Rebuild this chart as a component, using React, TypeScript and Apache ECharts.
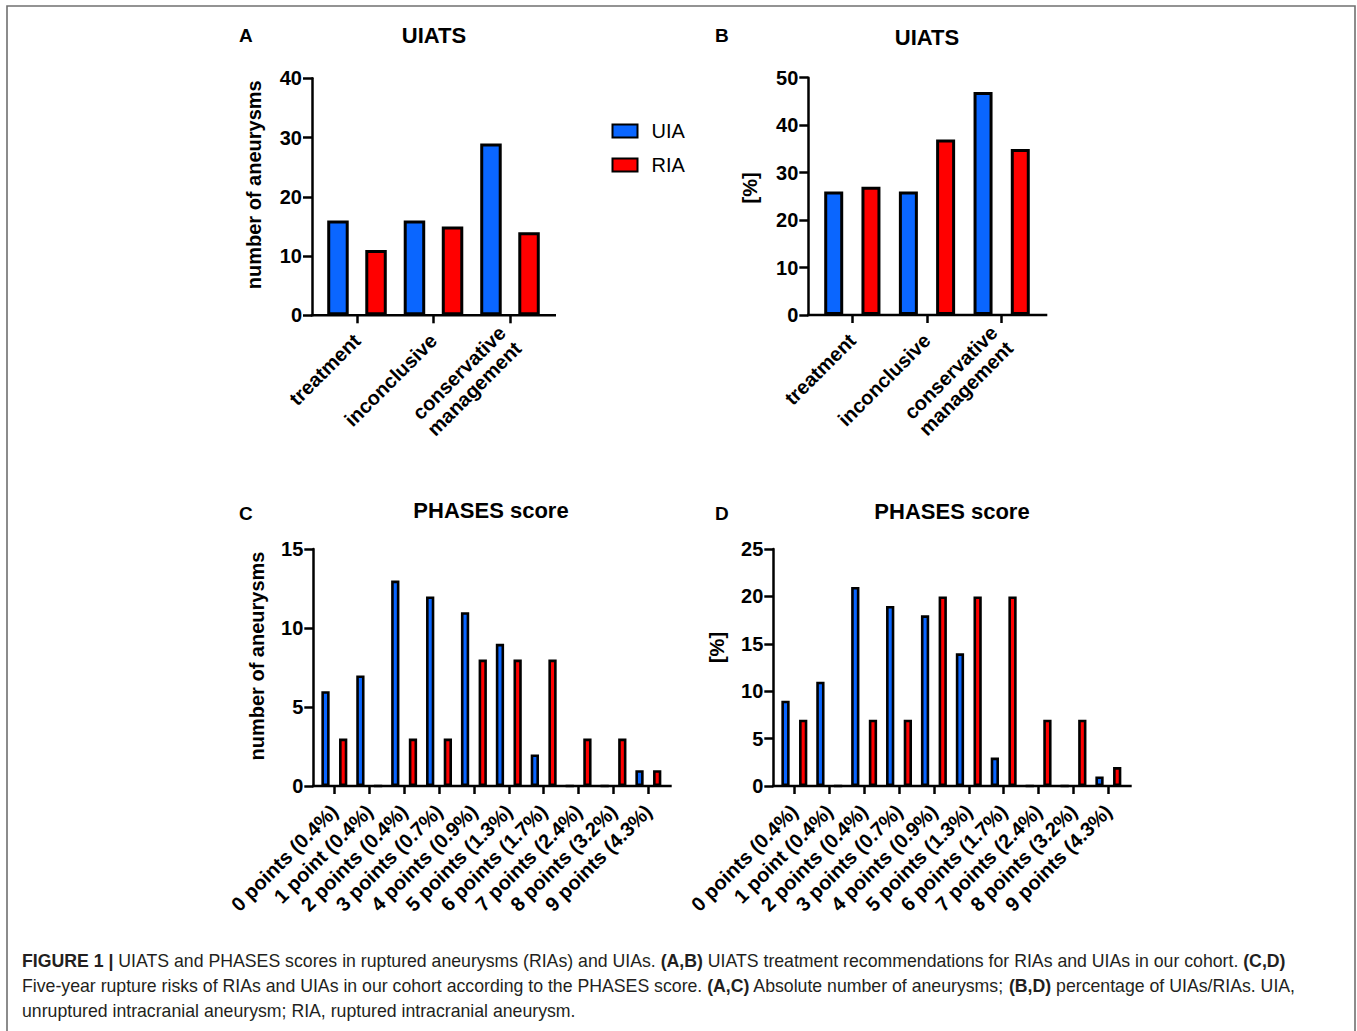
import React, { useEffect, useRef } from "react";
import * as echarts from "echarts";

const FONT = "'Liberation Sans', Arial, Helvetica, sans-serif";
const BLUE = "#0a66ff";
const RED = "#ff0000";

// ---- data ----
const uiatsCategories = ["treatment", "inconclusive", "conservative\nmanagement"];
const uiatsUiaCount = [16, 16, 29];
const uiatsRiaCount = [11, 15, 14];
const uiatsUiaPct = [26, 26, 47];
const uiatsRiaPct = [27, 37, 35];

const phasesCategories = [
  "0 points (0.4%)",
  "1 point (0.4%)",
  "2 points (0.4%)",
  "3 points (0.7%)",
  "4 points (0.9%)",
  "5 points (1.3%)",
  "6 points (1.7%)",
  "7 points (2.4%)",
  "8 points (3.2%)",
  "9 points (4.3%)",
];
const phasesUiaCount = [6, 7, 13, 12, 11, 9, 2, 0, 0, 1];
const phasesRiaCount = [3, 0, 3, 3, 8, 8, 8, 3, 3, 1];
const phasesUiaPct = [9, 11, 21, 19, 18, 14, 3, 0, 0, 1];
const phasesRiaPct = [7, 0, 7, 7, 20, 20, 20, 7, 7, 2];

const yMax = [40, 50, 15, 25];
const yInterval = [10, 10, 5, 5];
const yNames = ["number of aneurysms", "[%]", "number of aneurysms", "[%]"];
const panelTitles = ["UIATS", "UIATS", "PHASES score", "PHASES score"];
const panelLetters = ["A", "B", "C", "D"];
const legendNames = ["UIA", "RIA"];

const captionLines = [
  "{b|FIGURE 1 |} UIATS and PHASES scores in ruptured aneurysms (RIAs) and UIAs. {b|(A,B)} UIATS treatment recommendations for RIAs and UIAs in our cohort. {b|(C,D)}",
  "Five-year rupture risks of RIAs and UIAs in our cohort according to the PHASES score. {b|(A,C)} Absolute number of aneurysms; {b|(B,D)} percentage of UIAs/RIAs. UIA,",
  "unruptured intracranial aneurysm; RIA, ruptured intracranial aneurysm.",
];

// ---- layout ----
const panels = [
  { yAxisX: 312, bandStart: 318.75, bandWidth: 229.5, axisEnd: 556, top: 78.3, bottom: 315.3, barWidth: 21.5, barGap: "77%", border: 3, nameGap: 48, nameShift: 24, titleX: 434, titleY: 35, letterX: 239, letterY: 35 },
  { yAxisX: 808.3, bandStart: 815, bandWidth: 224, axisEnd: 1047.3, top: 77.7, bottom: 315, barWidth: 19, barGap: "96%", border: 3, nameGap: 48, nameShift: 17, titleX: 927, titleY: 37, letterX: 715, letterY: 35 },
  { yAxisX: 313.3, bandStart: 316.9, bandWidth: 348.9, axisEnd: 671.7, top: 549, bottom: 786, barWidth: 8.3, barGap: "113%", border: 2.6, nameGap: 46, nameShift: 23, titleX: 491, titleY: 510, letterX: 239, letterY: 513 },
  { yAxisX: 773.3, bandStart: 776.9, bandWidth: 348.9, axisEnd: 1131.7, top: 549, bottom: 786, barWidth: 8.3, barGap: "113%", border: 2.6, nameGap: 46, nameShift: 40, titleX: 952, titleY: 511, letterX: 715, letterY: 513 },
];

const panelCategories = [uiatsCategories, uiatsCategories, phasesCategories, phasesCategories];
const panelUia = [uiatsUiaCount, uiatsUiaPct, phasesUiaCount, phasesUiaPct];
const panelRia = [uiatsRiaCount, uiatsRiaPct, phasesRiaCount, phasesRiaPct];

function buildOption() {
  const grid: any[] = [];
  const xAxis: any[] = [];
  const yAxis: any[] = [];
  const series: any[] = [];
  const graphic: any[] = [];

  panels.forEach((p, i) => {
    grid.push({
      left: p.bandStart,
      top: p.top,
      width: p.bandWidth,
      height: p.bottom - p.top,
      containLabel: false,
      outerBoundsMode: "none",
    });
    xAxis.push({
      gridIndex: i,
      type: "category",
      data: panelCategories[i],
      axisLine: { show: false },
      axisTick: { show: true, alignWithLabel: true, length: 8, lineStyle: { color: "#000", width: 2.5 } },
      axisLabel: {
        interval: 0,
        rotate: 45,
        margin: 22,
        color: "#000",
        fontSize: 20,
        fontWeight: "bold",
        fontFamily: FONT,
        lineHeight: 22,
      },
      splitLine: { show: false },
    });
    yAxis.push({
      gridIndex: i,
      type: "value",
      min: 0,
      max: yMax[i],
      interval: yInterval[i],
      offset: p.bandStart - p.yAxisX,
      axisLine: { show: true, lineStyle: { color: "#000", width: 2.5 } },
      axisTick: { show: true, length: 9, lineStyle: { color: "#000", width: 2.5 } },
      axisLabel: { margin: 10, color: "#000", fontSize: 20, fontWeight: "bold", fontFamily: FONT },
      splitLine: { show: false },
      name: yNames[i],
      nameLocation: "middle",
      nameGap: p.nameGap,
      nameTextStyle: {
        color: "#000",
        fontSize: 20,
        fontWeight: "bold",
        fontFamily: FONT,
        padding: [0, 0, 0, p.nameShift],
      },
    });
    series.push({
      type: "bar",
      name: legendNames[0],
      xAxisIndex: i,
      yAxisIndex: i,
      data: panelUia[i],
      barWidth: p.barWidth,
      barGap: p.barGap,
      itemStyle: { color: BLUE, borderColor: "#000", borderWidth: p.border },
    });
    series.push({
      type: "bar",
      name: legendNames[1],
      xAxisIndex: i,
      yAxisIndex: i,
      data: panelRia[i],
      barWidth: p.barWidth,
      barGap: p.barGap,
      itemStyle: { color: RED, borderColor: "#000", borderWidth: p.border },
    });

    graphic.push({
      type: "line",
      z: 50,
      shape: { x1: p.yAxisX - 1.25, y1: p.bottom, x2: p.axisEnd, y2: p.bottom },
      style: { stroke: "#000", lineWidth: 2.5 },
    });
    graphic.push({
      type: "text",
      x: p.titleX,
      y: p.titleY,
      style: {
        text: panelTitles[i],
        fill: "#000",
        fontSize: 22,
        fontWeight: "bold",
        fontFamily: FONT,
        align: "center",
        verticalAlign: "middle",
      },
    });
    graphic.push({
      type: "text",
      x: p.letterX,
      y: p.letterY,
      style: {
        text: panelLetters[i],
        fill: "#000",
        fontSize: 19,
        fontWeight: "bold",
        fontFamily: FONT,
        align: "left",
        verticalAlign: "middle",
      },
    });
  });

  // frame
  graphic.push({
    type: "polyline",
    z: 60,
    shape: { points: [[7, 1040], [7, 6], [1355, 6], [1355, 1040]] },
    style: { stroke: "#707070", lineWidth: 1.6, fill: "none" },
  });

  // caption
  const captionY = [961, 986, 1011];
  captionLines.forEach((line, k) => {
    graphic.push({
      type: "text",
      x: 22,
      y: captionY[k],
      style: {
        text: line,
        fill: "#231f20",
        fontSize: 17.7,
        fontFamily: FONT,
        align: "left",
        verticalAlign: "middle",
        rich: {
          b: { fontSize: 17.7, fontWeight: "bold", fontFamily: FONT, fill: "#231f20" },
        },
      },
    });
  });

  return {
    animation: false,
    backgroundColor: "#ffffff",
    legend: {
      data: legendNames,
      orient: "vertical",
      left: 611.5,
      top: 121,
      padding: 0,
      itemWidth: 25,
      itemHeight: 13,
      itemGap: 14,
      icon: "rect",
      selectedMode: false,
      textStyle: { color: "#000", fontSize: 20, fontFamily: FONT, padding: [0, 0, 0, 9] },
    },
    grid,
    xAxis,
    yAxis,
    series,
    graphic,
  };
}

export default function App() {
  const ref = useRef<HTMLDivElement>(null);
  useEffect(() => {
    document.body.style.margin = "0";
    if (!ref.current) return;
    const chart = echarts.init(ref.current, undefined, { renderer: "svg" });
    chart.setOption(buildOption() as any);
    return () => chart.dispose();
  }, []);
  return (
    <div
      ref={ref}
      style={{ position: "absolute", left: 0, top: 0, width: 1357, height: 1031, background: "#fff" }}
    />
  );
}
